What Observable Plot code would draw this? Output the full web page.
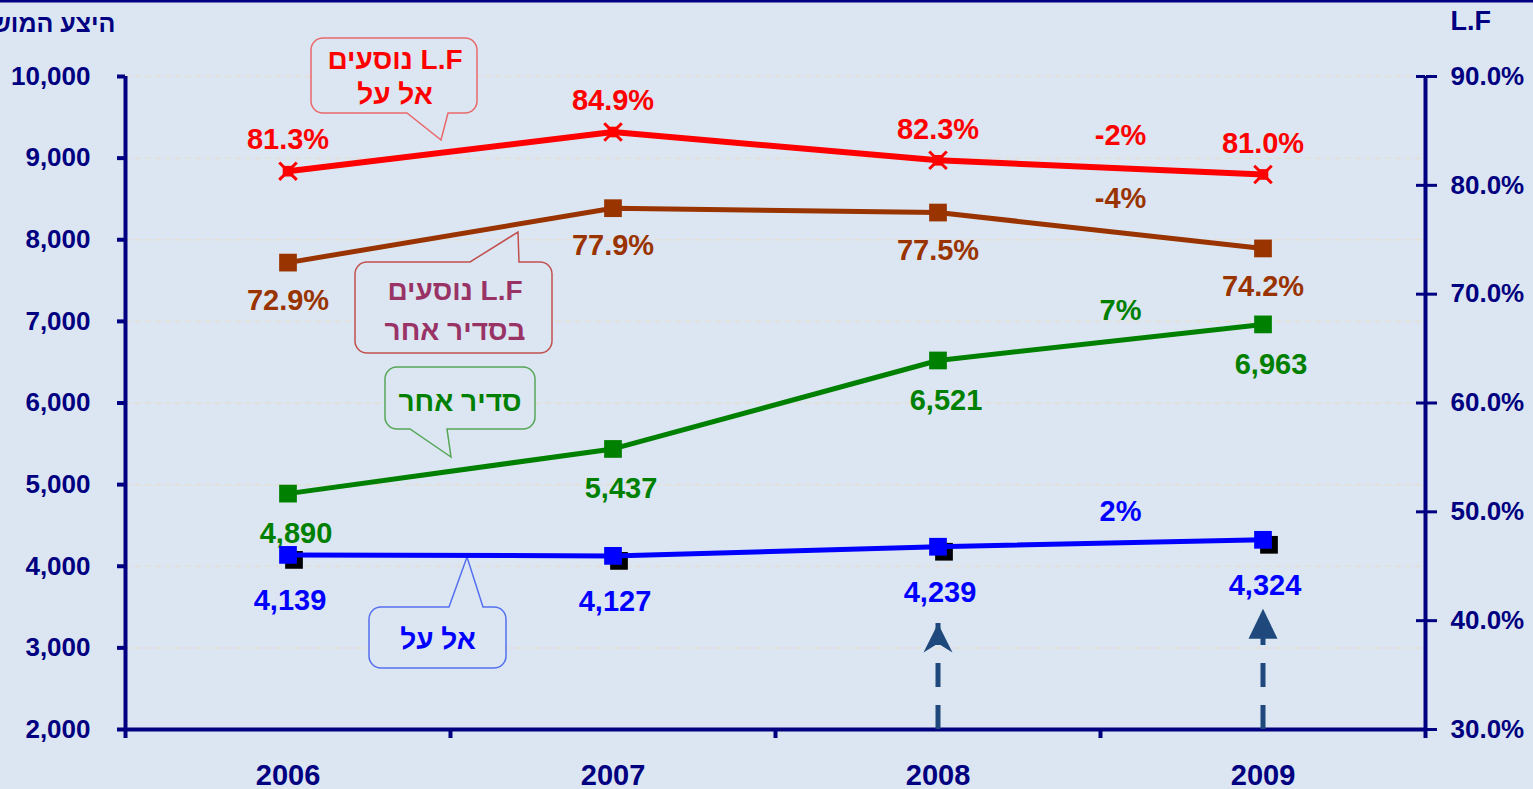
<!DOCTYPE html>
<html><head><meta charset="utf-8">
<script src="https://cdn.jsdelivr.net/npm/d3@7"></script>
<script src="https://cdn.jsdelivr.net/npm/@observablehq/plot@0.6"></script>
<style>
html,body{margin:0;padding:0;background:#dce6f2;overflow:hidden;}
#chart{width:1533px;height:789px;}
</style></head><body><div id="chart"></div>
<script>
// ---- data ----
const years = [2006, 2007, 2008, 2009];
const lfElAl = [81.3, 84.9, 82.3, 81.0];        // L.F נוסעים אל על (%), right axis
const lfOther = [72.9, 77.9, 77.5, 74.2];       // L.F נוסעים בסדיר אחר (%), right axis
const seatsOther = [4890, 5437, 6521, 6963];    // סדיר אחר, left axis
const seatsElAl = [4139, 4127, 4239, 4324];     // אל על, left axis
const changeLabels = ["-2%", "-4%", "7%", "2%"]; // 2008→2009 change
const leftTicks = [2000, 3000, 4000, 5000, 6000, 7000, 8000, 9000, 10000];
const rightTicks = [30, 40, 50, 60, 70, 80, 90];
const arrowYears = [2008, 2009];
const arrowTips = [3300, 3480];
const leftTitle = "היצע המושבים";
const rightTitle = "L.F";

// ---- helpers ----
const navy = "#000080";
const toLeft = p => 2000 + (p - 30) * (8000 / 60);
const fmtK = d3.format(",");
const pct = p => p.toFixed(1) + "%";
const rows = (vals, labels) => years.map((year, i) => ({year, v: vals[i], label: labels[i]}));

const series = [
  {data: rows(lfElAl.map(toLeft), lfElAl.map(pct)), color: "#ff0000", labelColor: "#ff0000", dy: -31, dx: 0, kind: "star", sw: 6},
  {data: rows(lfOther.map(toLeft), lfOther.map(pct)), color: "#993300", labelColor: "#993300", dy: 38, dx: 0, kind: "square", sw: 5},
  {data: rows(seatsOther, seatsOther.map(fmtK)), color: "#008000", labelColor: "#008000", dy: 40, dx: 8, kind: "square", sw: 5},
  {data: rows(seatsElAl, seatsElAl.map(fmtK)), color: "#0000ff", labelColor: "#0000ff", dy: 46, dx: 2, kind: "shadow", sw: 5}
];
const changes = series.map((s, i) => ({
  x: (s.data[2].year + s.data[3].year) / 2,
  y: (s.data[2].v + s.data[3].v) / 2,
  label: changeLabels[i], color: s.labelColor
}));
const arrows = arrowYears.map((x, i) => ({x, top: arrowTips[i]}));
const xBounds = [2005.5, 2006.5, 2007.5, 2008.5, 2009.5];

// custom arrowhead symbols (tip is 17px above the symbol centre)
const stealth = {draw(ctx) { ctx.moveTo(0, -17); ctx.lineTo(14.5, 12); ctx.lineTo(0, 3); ctx.lineTo(-14.5, 12); ctx.closePath(); }};
const triangle = {draw(ctx) { ctx.moveTo(0, -17); ctx.lineTo(14.5, 13); ctx.lineTo(-14.5, 13); ctx.closePath(); }};

// ---- callouts (annotation shapes) ----
const calloutSpecs = [
  {box: [311, 38, 477, 113], side: "bottom", tail: [407, 441, 140, 448], lines: ["L.F נוסעים", "אל על"], ys: [59, 94], cx: 395, text: "#ff0000", border: "#e8686a"},
  {box: [355, 262, 552, 353], side: "top", tail: [470, 518, 232, 519], lines: ["L.F נוסעים", "בסדיר אחר"], ys: [290, 330], cx: 455, text: "#993366", border: "#c0504d"},
  {box: [385, 367, 535, 429], side: "bottom", tail: [410, 451, 457, 447], lines: ["סדיר אחר"], ys: [401], cx: 460, text: "#008000", border: "#55a655"},
  {box: [369, 607, 506, 668], side: "top", tail: [449, 467, 557, 483], lines: ["אל על"], ys: [639], cx: 438, text: "#0000ff", border: "#5470f0"}
];
function calloutPath(c) {
  const [x0, y0, x1, y1] = c.box, r = 12;
  const [a, tx, ty, b] = c.tail;
  let p = `M${x0 + r},${y0}`;
  if (c.side === "top") p += `H${a}L${tx},${ty}L${b},${y0}`;
  p += `H${x1 - r}A${r},${r} 0 0 1 ${x1},${y0 + r}V${y1 - r}A${r},${r} 0 0 1 ${x1 - r},${y1}`;
  if (c.side === "bottom") p += `H${b}L${tx},${ty}L${a},${y1}`;
  p += `H${x0 + r}A${r},${r} 0 0 1 ${x0},${y1 - r}V${y0 + r}A${r},${r} 0 0 1 ${x0 + r},${y0}Z`;
  return p;
}
function decorations(index, scales, values, dims) {
  const g = d3.create("svg:g");
  g.append("line").attr("x1", 0).attr("x2", dims.width).attr("y1", 1).attr("y2", 1)
    .attr("stroke", navy).attr("stroke-width", 3);
  for (const c of calloutSpecs) {
    g.append("path").attr("d", calloutPath(c)).attr("fill", "#dce6f2")
      .attr("stroke", c.border).attr("stroke-width", 1.5);
    c.lines.forEach((t, i) => {
      g.append("text").attr("x", c.cx).attr("y", c.ys[i])
        .attr("text-anchor", "middle").attr("dominant-baseline", "central")
        .attr("direction", "rtl").style("direction", "rtl")
        .attr("fill", c.text).attr("font-size", 28).attr("font-weight", "bold")
        .text(t);
    });
  }
  return g.node();
}

// ---- marks ----
const seriesMarks = series.flatMap(s => {
  const m = [];
  if (s.kind === "shadow") {
    m.push(Plot.dot(s.data, {x: "year", y: "v", symbol: "square", r: 10, fill: "#000000", dx: 6, dy: 5}));
  }
  m.push(Plot.line(s.data, {x: "year", y: "v", stroke: s.color, strokeWidth: s.sw}));
  if (s.kind === "star") {
    m.push(Plot.dot(s.data, {x: "year", y: "v", symbol: "square", r: 6, fill: s.color}));
    m.push(Plot.dot(s.data, {x: "year", y: "v", symbol: "times", r: 8, stroke: s.color, strokeWidth: 3}));
  } else {
    m.push(Plot.dot(s.data, {x: "year", y: "v", symbol: "square", r: 10, fill: s.color}));
  }
  m.push(Plot.text(s.data, {x: "year", y: "v", text: "label", dy: s.dy, dx: s.dx, fill: s.labelColor, fontSize: 29, fontWeight: "bold"}));
  return m;
});

const chart = Plot.plot({
  width: 1533, height: 789,
  marginLeft: 125, marginRight: 108, marginTop: 76, marginBottom: 60,
  style: {background: "#dce6f2", fontFamily: "Arial, 'Liberation Sans', sans-serif", fontWeight: "bold", overflow: "visible"},
  x: {domain: [2005.5, 2009.5], axis: null},
  y: {domain: [2000, 10000], axis: null, label: null},
  marks: [
    Plot.ruleY(leftTicks.slice(1), {x1: 2005.5, x2: 2009.5, stroke: "#e4ded3", strokeWidth: 1.5, strokeDasharray: "6,4"}),
    Plot.axisY(leftTicks, {anchor: "left", label: null, tickSize: 8, tickPadding: 27, tickFormat: d => fmtK(d), color: navy, strokeWidth: 4, fontSize: 26, fontWeight: "bold"}),
    Plot.axisY(rightTicks.map(toLeft), {anchor: "right", label: null, tickSize: 11, tickPadding: 14, tickFormat: (d, i) => pct(rightTicks[i]), color: navy, strokeWidth: 3, fontSize: 26, fontWeight: "bold"}),
    Plot.ruleY(rightTicks.map(toLeft), {x1: 2009.5 - 9 / 325, x2: 2009.5, stroke: navy, strokeWidth: 3}),
    Plot.axisX(xBounds, {anchor: "bottom", label: null, tickSize: 9, tickFormat: () => "", color: navy, strokeWidth: 4}),
    Plot.axisX(years, {anchor: "bottom", label: null, tickSize: 0, tickPadding: 35, tickFormat: d => String(d), color: navy, fontSize: 29, fontWeight: "bold"}),
    Plot.ruleX([2005.5, 2009.5], {y1: 2000, y2: 10000, stroke: navy, strokeWidth: 4}),
    Plot.ruleY([2000], {x1: 2005.5, x2: 2009.5, stroke: navy, strokeWidth: 4}),
    Plot.text([leftTitle], {text: d => d, frameAnchor: "top-left", lineAnchor: "middle", dx: -10, dy: -53, textAnchor: "end", fill: navy, fontSize: 25, fontWeight: "bold"}),
    Plot.text([rightTitle], {text: d => d, frameAnchor: "top-right", lineAnchor: "middle", dx: 25, dy: -55, textAnchor: "start", fill: navy, fontSize: 27, fontWeight: "bold"}),
    Plot.ruleX(arrows, {x: "x", y1: 2000, y2: "top", stroke: "#1f497d", strokeWidth: 5, strokeDasharray: "24,18"}),
    Plot.dot([arrows[0]], {x: "x", y: "top", symbol: stealth, r: 10, fill: "#1f497d", dy: 17}),
    Plot.dot([arrows[1]], {x: "x", y: "top", symbol: triangle, r: 10, fill: "#1f497d", dy: 17}),
    decorations,
    ...seriesMarks,
    ...changes.map(c => Plot.text([c], {x: "x", y: "y", text: "label", dx: 20, dy: -32, fill: c.color, fontSize: 29, fontWeight: "bold"}))
  ]
});
document.getElementById("chart").append(chart);
</script>
</body></html>
